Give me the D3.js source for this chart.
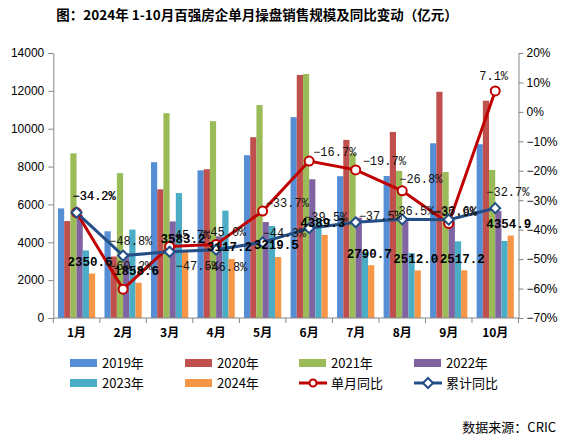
<!DOCTYPE html>
<html>
<head>
<meta charset="utf-8">
<script src="https://cdn.jsdelivr.net/npm/d3@7"></script>
<style>
  body { margin: 0; background: #fff; }
  svg { display: block; }
  .axis path, .axis line { stroke: #868686; }
</style>
</head>
<body>
<svg id="chart" width="575" height="439"></svg>
<script>
// monthly data, 亿元
var months = ["1月","2月","3月","4月","5月","6月","7月","8月","9月","10月"];
var years = ["2019年","2020年","2021年","2022年","2023年","2024年"];
var v2019 = [5790, 4580, 8230, 7800, 8600, 10610, 7490, 7500, 9230, 9180];
var v2020 = [5120, 3250, 6800, 7860, 9550, 12840, 9410, 9830, 11950, 11480];
var v2021 = [8700, 7650, 10820, 10400, 11250, 12890, 8700, 7770, 7710, 7820];
var v2022 = [5450, 3400, 5100, 4320, 5070, 7330, 5300, 5120, 5150, 5650];
var v2023 = [3570, 4670, 6600, 5670, 4860, 5270, 3480, 3430, 4050, 4070];
var v2024 = [2350.6, 1858.6, 3583.2, 3117.2, 3219.5, 4389.3, 2790.7, 2512.0, 2517.2, 4354.9];
// yoy %, single month and cumulative
var singleYoy = [-34.2, -60.2, -45.7, -45.0, -33.7, -16.7, -19.7, -26.8, -37.9, 7.1];
var cumYoy = [-34.2, -48.8, -47.5, -46.8, -44.3, -39.5, -37.5, -36.5, -36.6, -32.7];
var leftTicks = [0, 2000, 4000, 6000, 8000, 10000, 12000, 14000];
var rightTicks = [20, 10, 0, -10, -20, -30, -40, -50, -60, -70];

// label nudges (dx from point to text start, dy to text middle)
var singleShift = [[-4,-17],[-14,-23],[-2,-12],[-13,-13],[3,-8],[4,-9],[7,-9],[-3,-12],[-15,-12],[-16,-15]];
var cumShift = [[-4,-17],[-14,-15],[6,14],[-12,17],[0,-10],[-5,-11],[3,-7],[-11,-9],[-15,-9],[-9,-16]];

var barColors = ["#558ED5","#C0504D","#9BBB59","#8064A2","#4BACC6","#F79646"];
var series = [v2019, v2020, v2021, v2022, v2023, v2024];

var svg = d3.select("#chart");
var plotL = 53.3, plotR = 518.5, plotT = 53, plotB = 318;

var x0 = d3.scaleBand().domain(months).range([plotL, plotR]).paddingInner(0.2).paddingOuter(0.1);
var x1 = d3.scaleBand().domain(d3.range(6)).range([0, x0.bandwidth()]);
var y = d3.scaleLinear().domain([0, 14000]).range([plotB, plotT]);
var yr = d3.scaleLinear().domain([-70, 20]).range([plotB, plotT]);

function midX(i){ return x0(months[i]) + x0.bandwidth() / 2; }

// title
svg.append("text")
    .attr("x", 257).attr("y", 20)
    .attr("text-anchor", "middle")
    .style("font-family", "'Noto Sans CJK SC'")
    .style("font-weight", "bold")
    .style("font-size", "13.5px")
    .text("图：2024年 1-10月百强房企单月操盘销售规模及同比变动（亿元）");

// bars
var groups = svg.selectAll(".month")
    .data(months)
  .enter().append("g")
    .attr("class", "month")
    .attr("transform", function(d){ return "translate(" + x0(d) + ",0)"; });

groups.selectAll("rect")
    .data(function(d, i){ return series.map(function(s, k){ return {k: k, v: s[i]}; }); })
  .enter().append("rect")
    .attr("x", function(d){ return x1(d.k); })
    .attr("width", x1.bandwidth())
    .attr("y", function(d){ return y(d.v); })
    .attr("height", function(d){ return plotB - y(d.v); })
    .attr("fill", function(d){ return barColors[d.k]; });

// axes
var gx = svg.append("g").attr("class", "axis")
    .attr("transform", "translate(0," + plotB + ")")
    .call(d3.axisBottom(x0).tickSize(0).tickPadding(10));
gx.select(".domain").attr("d", "M" + plotL + ",0H" + plotR);
gx.selectAll("text")
    .style("font-family", "'Noto Sans CJK SC'")
    .style("font-weight", "bold")
    .style("font-size", "12px")
    .attr("fill", "#000");
// category boundary ticks
gx.selectAll(".bound")
    .data(months.concat([""]))
  .enter().append("line")
    .attr("class", "bound")
    .attr("x1", function(d, i){ return plotL + i * x0.step(); })
    .attr("x2", function(d, i){ return plotL + i * x0.step(); })
    .attr("y1", 0).attr("y2", 5)
    .attr("stroke", "#868686");

var gy = svg.append("g").attr("class", "axis")
    .attr("transform", "translate(" + plotL + ",0)")
    .call(d3.axisLeft(y).tickValues(leftTicks).tickSize(5).tickSizeOuter(0).tickPadding(4).tickFormat(d3.format("d")));
gy.selectAll("text")
    .style("font-family", "'Liberation Sans', Arial")
    .style("font-size", "12px")
    .attr("fill", "#000");

var gyr = svg.append("g").attr("class", "axis")
    .attr("transform", "translate(" + plotR + ",0)")
    .call(d3.axisRight(yr).tickValues(rightTicks).tickSize(5).tickSizeOuter(0).tickPadding(3)
        .tickFormat(function(d){ return (d < 0 ? "\u2212" + (-d) : d) + "%"; }));
gyr.selectAll("text")
    .style("font-family", "'Liberation Sans', Arial")
    .style("font-size", "12px")
    .attr("fill", "#000");

// lines
var line = d3.line()
    .x(function(d, i){ return midX(i); })
    .y(function(d){ return yr(d); });

svg.append("path").attr("d", line(singleYoy))
    .attr("fill", "none").attr("stroke", "#C00000").attr("stroke-width", 3);
svg.append("path").attr("d", line(cumYoy))
    .attr("fill", "none").attr("stroke", "#234E86").attr("stroke-width", 3);

var diamond = d3.symbol().type(d3.symbolDiamond2).size(64);
svg.selectAll(".mk-single")
    .data(singleYoy)
  .enter().append("circle")
    .attr("class", "mk-single")
    .attr("cx", function(d, i){ return midX(i); })
    .attr("cy", function(d){ return yr(d); })
    .attr("r", 4.5)
    .attr("fill", "#fff").attr("stroke", "#C00000").attr("stroke-width", 2);
svg.selectAll(".mk-cum")
    .data(cumYoy)
  .enter().append("path")
    .attr("class", "mk-cum")
    .attr("d", diamond)
    .attr("transform", function(d, i){ return "translate(" + midX(i) + "," + yr(d) + ")"; })
    .attr("fill", "#fff").attr("stroke", "#234E86").attr("stroke-width", 2);

// percent labels
function pctLabels(vals, shift, cls){
    svg.selectAll("." + cls)
        .data(vals)
      .enter().append("text")
        .attr("class", cls)
        .attr("x", function(d, i){ return midX(i) + shift[i][0]; })
        .attr("y", function(d, i){ return yr(d) + shift[i][1]; })
        .attr("dy", "0.35em")
        .style("font-family", "'Liberation Mono', monospace")
        .style("font-size", "12px")
        .attr("fill", "#111")
        .text(function(d){ return d3.format(".1f")(d) + "%"; });
}
pctLabels(singleYoy, singleShift, "lb-single");
pctLabels(cumYoy, cumShift, "lb-cum");

// 2024 value labels
svg.selectAll(".lb-2024")
    .data(v2024)
  .enter().append("text")
    .attr("class", "lb-2024")
    .attr("x", function(d, i){ return x0(months[i]) + x1(5) + x1.bandwidth() / 2 - 2; })
    .attr("y", function(d){ return y(d) - 12; })
    .attr("dy", "0.35em")
    .attr("text-anchor", "middle")
    .style("font-family", "'Liberation Mono', monospace")
    .style("font-weight", "bold")
    .style("font-size", "12.5px")
    .attr("fill", "#000")
    .text(function(d){ return d3.format(".1f")(d); });

// legend
var legendItems = years.map(function(d, i){ return {label: d, color: barColors[i], type: "bar"}; })
    .concat([{label: "单月同比", color: "#C00000", type: "circle"},
             {label: "累计同比", color: "#234E86", type: "diamond"}]);
var colX = [70, 185, 299, 414];
var legend = svg.selectAll(".legend")
    .data(legendItems)
  .enter().append("g")
    .attr("class", "legend")
    .attr("transform", function(d, i){ return "translate(" + colX[i % 4] + "," + (363 + Math.floor(i / 4) * 20) + ")"; });

legend.each(function(d){
    var g = d3.select(this);
    if (d.type == "bar") {
        g.append("rect").attr("x", 0).attr("y", -4).attr("width", 27).attr("height", 8).attr("fill", d.color);
    } else {
        g.append("line").attr("x1", 0).attr("x2", 28).attr("y1", 0).attr("y2", 0)
            .attr("stroke", d.color).attr("stroke-width", 3);
        if (d.type == "circle") {
            g.append("circle").attr("cx", 14).attr("cy", 0).attr("r", 3.5)
                .attr("fill", "#fff").attr("stroke", d.color).attr("stroke-width", 2);
        } else {
            g.append("path").attr("d", diamond).attr("transform", "translate(14,0)")
                .attr("fill", "#fff").attr("stroke", d.color).attr("stroke-width", 2);
        }
    }
    g.append("text")
        .attr("x", 32).attr("y", 0).attr("dy", "0.35em")
        .style("font-family", "'Noto Sans CJK SC'")
        .style("font-size", "13px")
        .attr("fill", "#000")
        .text(d.label);
});

// source
svg.append("text")
    .attr("x", 556).attr("y", 432)
    .attr("text-anchor", "end")
    .style("font-family", "'Noto Sans CJK SC'")
    .style("font-size", "13px")
    .attr("fill", "#000")
    .text("数据来源：CRIC");
</script>
</body>
</html>
